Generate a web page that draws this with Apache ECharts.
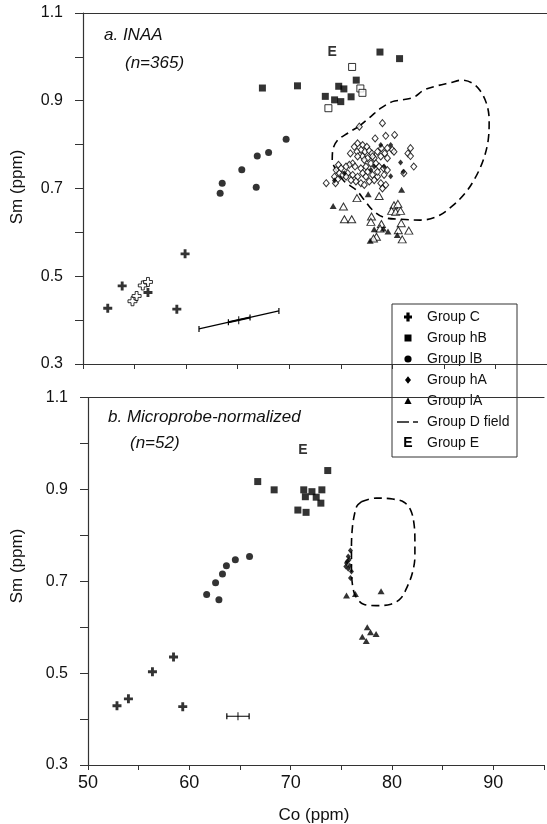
<!DOCTYPE html>
<html><head><meta charset="utf-8">
<script src="https://cdn.jsdelivr.net/npm/echarts@6/dist/echarts.min.js"></script>
<style>html,body{margin:0;padding:0;background:#fff}#c{width:547px;height:824px}</style>
</head><body><div id="c"></div>
<script>
// ---------- data ----------
const xTicks = [50, 60, 70, 80, 90];
const yTicks = [0.3, 0.5, 0.7, 0.9, 1.1];
const legendLabels = ['Group C', 'Group hB', 'Group lB', 'Group hA', 'Group lA', 'Group D field', 'Group E'];

// panel a (INAA)
const topC = [[52.4,0.427],[53.8,0.478],[56.3,0.463],[59.1,0.425],[59.9,0.551]];
const topCOpen = [[54.8,0.443],[55.2,0.455],[55.8,0.479],[56.3,0.487]];
const topHB = [[67.4,0.929],[70.8,0.934],[73.5,0.910],[74.4,0.902],[74.8,0.933],[75.0,0.898],[75.3,0.927],[76.0,0.909],[76.5,0.947],[78.8,1.011],[80.7,0.996]];
const topHBOpen = [[73.8,0.883],[76.1,0.977],[76.9,0.928],[77.1,0.918]];
const topLB = [[63.3,0.689],[63.5,0.712],[65.4,0.743],[66.8,0.703],[66.9,0.774],[68.0,0.782],[69.7,0.812]];
const topHAOpen = [[76.80,0.841],[79.04,0.849],[78.33,0.814],[79.36,0.820],[80.22,0.822],[76.63,0.803],[77.12,0.799],[77.53,0.795],[76.97,0.788],[76.57,0.784],[75.93,0.780],[77.34,0.784],[77.76,0.786],[78.01,0.780],[78.56,0.784],[78.94,0.792],[79.26,0.780],[79.52,0.769],[78.88,0.773],[78.24,0.769],[77.60,0.769],[77.12,0.773],[76.63,0.773],[76.15,0.757],[75.83,0.754],[76.38,0.750],[76.95,0.746],[77.44,0.750],[77.92,0.757],[78.40,0.757],[78.72,0.750],[79.15,0.746],[79.52,0.742],[80.00,0.788],[81.76,0.792],[81.51,0.780],[81.76,0.774],[82.08,0.750],[81.12,0.735],[74.78,0.754],[74.55,0.742],[74.87,0.735],[74.39,0.727],[74.71,0.721],[75.19,0.731],[75.67,0.735],[76.15,0.731],[76.63,0.727],[77.12,0.735],[77.60,0.738],[78.08,0.731],[78.56,0.727],[78.88,0.712],[79.36,0.708],[79.04,0.700],[76.95,0.712],[77.28,0.708],[76.47,0.716],[75.99,0.719],[73.59,0.712],[74.49,0.712],[75.51,0.727],[78.24,0.719],[78.56,0.738],[77.44,0.727],[77.76,0.716],[80.16,0.784],[79.52,0.792],[76.31,0.795],[79.20,0.731],[77.28,0.765],[78.08,0.773],[75.51,0.750],[75.03,0.746]];
const topHA = [[78.88,0.799],[79.84,0.799],[80.80,0.759],[81.06,0.738],[79.84,0.728],[77.92,0.742],[75.35,0.735],[74.39,0.718],[78.24,0.750],[79.20,0.750]];
const topLAOpen = [[75.26,0.659],[75.35,0.630],[76.06,0.630],[76.57,0.678],[78.72,0.683],[80.16,0.662],[80.54,0.665],[79.93,0.649],[80.32,0.647],[80.80,0.649],[77.98,0.636],[77.92,0.624],[78.94,0.619],[80.86,0.621],[80.58,0.605],[81.60,0.604],[80.96,0.584],[78.46,0.590],[78.17,0.586],[78.81,0.609]];
const topLA = [[77.66,0.687],[80.90,0.697],[74.26,0.660],[78.24,0.607],[79.13,0.609],[79.58,0.602],[77.85,0.581],[80.48,0.594]];
const topDField = [[76.80,0.842],[75.67,0.826],[74.65,0.809],[74.23,0.788],[74.17,0.765],[74.55,0.742],[75.35,0.716],[76.47,0.697],[77.28,0.674],[78.08,0.651],[79.20,0.634],[80.80,0.630],[82.72,0.628],[84.33,0.636],[85.77,0.659],[87.05,0.689],[88.01,0.723],[88.82,0.765],[89.30,0.811],[89.39,0.856],[89.13,0.894],[88.49,0.924],[87.69,0.941],[86.73,0.947],[85.61,0.941],[84.33,0.934],[83.05,0.924],[82.09,0.908],[80.96,0.902],[80.00,0.898],[78.88,0.883],[77.91,0.864],[76.80,0.842]];
const topE = [[74.17,1.010]];
const topErrLine = [[61.25,0.380],[69.0,0.421]];
const topErrInner = [[64.1,0.395],[66.2,0.406]];
const topErrCenter = [[65.1,0.400]];

// panel b (microprobe-normalized)
const botC = [[52.86,0.429],[53.99,0.444],[56.36,0.503],[58.44,0.535],[59.35,0.427]];
const botHB = [[66.75,0.917],[68.37,0.899],[73.66,0.941],[71.29,0.899],[71.45,0.884],[72.10,0.895],[72.52,0.883],[73.08,0.899],[72.98,0.870],[70.71,0.855],[71.52,0.850]];
const botLB = [[61.71,0.671],[62.59,0.697],[63.27,0.716],[63.66,0.734],[64.54,0.747],[65.94,0.754],[62.92,0.660]];
const botHA = [[75.90,0.767],[75.68,0.754],[75.77,0.747],[75.51,0.740],[75.44,0.732],[75.83,0.734],[76.00,0.721],[75.68,0.727],[75.90,0.707],[75.58,0.743]];
const botLA = [[75.51,0.669],[76.39,0.672],[78.92,0.678],[77.56,0.600],[77.88,0.589],[78.43,0.585],[77.07,0.579],[77.46,0.570]];
const botDField = [[76.97,0.873],[78.43,0.881],[80.06,0.879],[81.19,0.872],[81.84,0.855],[82.16,0.827],[82.26,0.790],[82.26,0.754],[82.01,0.718],[81.52,0.689],[80.87,0.663],[79.89,0.650],[78.43,0.647],[77.20,0.650],[76.42,0.667],[76.10,0.692],[76.00,0.732],[76.00,0.776],[76.10,0.819],[76.32,0.848],[76.55,0.864],[76.97,0.873]];
const botE = [[71.2,0.986]];
const botErrLine = [[63.7,0.406],[65.9,0.406]];
const botErrCenter = [[64.8,0.406]];

// ---------- styling ----------
const FONT = '"Liberation Sans", Arial, Helvetica, sans-serif';
const INK = '#111';
const AX = '#333';
const PLUS = 'path://M3.4,0H6.6V3.4H10V6.6H6.6V10H3.4V6.6H0V3.4H3.4Z';

const chart = echarts.init(document.getElementById('c'), null, {renderer: 'canvas'});

function yAxisDef(gi) {
  return {
    type: 'value', gridIndex: gi, min: 0.3, max: 1.1, interval: 0.1,
    axisLine: {show: true, lineStyle: {color: AX, width: 1.2}},
    axisTick: {show: true, length: 8, lineStyle: {color: AX, width: 1}},
    splitLine: {show: false},
    axisLabel: {
      margin: 20, color: INK, fontFamily: FONT, fontSize: 16,
      formatter: v => {
        const k = Math.round(v * 10);
        const hit = yTicks.some(t => Math.round(t * 10) === k);
        return hit ? (k / 10).toFixed(1) : '';
      }
    }
  };
}
function xAxisDef(gi, showLabels) {
  return {
    type: 'value', gridIndex: gi, min: 50, max: 95, interval: 5,
    axisLine: {show: true, onZero: false, lineStyle: {color: AX, width: 1.2}},
    axisTick: {show: true, length: 5, lineStyle: {color: AX, width: 1}},
    splitLine: {show: false},
    axisLabel: {
      show: showLabels, margin: 9, color: INK, fontFamily: FONT, fontSize: 18,
      formatter: v => xTicks.indexOf(Math.round(v)) >= 0 ? String(Math.round(v)) : ''
    }
  };
}
function topBorder(gi) {
  return {
    type: 'value', gridIndex: gi, min: 50, max: 95, position: 'top',
    axisLine: {show: true, onZero: false, lineStyle: {color: AX, width: 1.2}},
    axisTick: {show: false}, axisLabel: {show: false}, splitLine: {show: false}
  };
}

function sc(name, data, xi, yi, symbol, size, filled, extra) {
  return Object.assign({
    name, type: 'scatter', xAxisIndex: xi, yAxisIndex: yi, data,
    symbol, symbolSize: size,
    itemStyle: filled ? {color: '#000'} : {color: '#fff', borderColor: '#000', borderWidth: 1},
    emphasis: {disabled: true}, z: 3
  }, extra || {});
}
function field(name, data, xi, yi) {
  return {
    name, type: 'line', xAxisIndex: xi, yAxisIndex: yi, data, smooth: 0.35,
    symbol: 'none', lineStyle: {color: '#000', width: 1.6, type: [8, 5]}, z: 2
  };
}
function eLabel(name, data, xi, yi) {
  return {
    name, type: 'scatter', xAxisIndex: xi, yAxisIndex: yi, data,
    symbol: 'circle', symbolSize: 1, itemStyle: {color: 'rgba(0,0,0,0)'},
    label: {show: true, position: 'inside', formatter: 'E', color: '#000', fontFamily: FONT, fontWeight: 'bold', fontSize: 14},
    z: 4
  };
}
function errLine(name, data, xi, yi, width, caps) {
  return {
    name, type: 'line', xAxisIndex: xi, yAxisIndex: yi, data,
    symbol: caps ? 'rect' : 'none', symbolSize: [1.2, 6], showSymbol: !!caps,
    itemStyle: {color: '#000'},
    lineStyle: {color: '#000', width}, z: 3
  };
}

// ---------- legend (graphic) ----------
const LX = 392, LY = 304, LW = 125, LH = 153;
const legendEls = [
  {type: 'rect', shape: {x: 378, y: 298, width: 155, height: 165}, style: {fill: '#fff'}},
  {type: 'rect', shape: {x: LX, y: LY, width: LW, height: LH}, style: {fill: '#fff', stroke: AX, lineWidth: 1}}
];
legendLabels.forEach((lab, i) => {
  const cy = 317 + i * 21, cx = 408;
  let icon;
  if (i === 0) icon = {type: 'polygon', shape: {points: [[cx-1.6,cy-4.5],[cx+1.6,cy-4.5],[cx+1.6,cy-1.6],[cx+4,cy-1.6],[cx+4,cy+1.6],[cx+1.6,cy+1.6],[cx+1.6,cy+4.5],[cx-1.6,cy+4.5],[cx-1.6,cy+1.6],[cx-4,cy+1.6],[cx-4,cy-1.6],[cx-1.6,cy-1.6]]}, style: {fill: '#000'}};
  else if (i === 1) icon = {type: 'rect', shape: {x: cx-3.5, y: cy-3.5, width: 7, height: 7}, style: {fill: '#000'}};
  else if (i === 2) icon = {type: 'circle', shape: {cx, cy, r: 3.6}, style: {fill: '#000'}};
  else if (i === 3) icon = {type: 'polygon', shape: {points: [[cx,cy-3.8],[cx+3,cy],[cx,cy+3.8],[cx-3,cy]]}, style: {fill: '#000'}};
  else if (i === 4) icon = {type: 'polygon', shape: {points: [[cx,cy-3.8],[cx+3.6,cy+3],[cx-3.6,cy+3]]}, style: {fill: '#000'}};
  else if (i === 5) icon = {type: 'group', children: [
      {type: 'line', shape: {x1: 397, y1: cy, x2: 409, y2: cy}, style: {stroke: '#000', lineWidth: 1.4}},
      {type: 'line', shape: {x1: 413, y1: cy, x2: 418, y2: cy}, style: {stroke: '#000', lineWidth: 1.4}}]};
  else icon = {type: 'text', x: cx, y: cy, style: {text: 'E', font: 'bold 14px ' + FONT, fill: '#000', align: 'center', verticalAlign: 'middle'}};
  legendEls.push(icon);
  legendEls.push({type: 'text', x: 427, y: cy, style: {text: lab, font: '14px ' + FONT, fill: INK, verticalAlign: 'middle'}});
});

const option = {
  animation: false,
  backgroundColor: '#fff',
  grid: [
    {left: 83, top: 13, width: 468, height: 351},
    {left: 88, top: 397.5, width: 462, height: 367.5}
  ],
  xAxis: [xAxisDef(0, false), topBorder(0), xAxisDef(1, true), topBorder(1)],
  yAxis: [yAxisDef(0), yAxisDef(1)],
  series: [
    field('Group D field', topDField, 0, 0),
    sc('Group C (open)', topCOpen, 0, 0, PLUS, 9, false),
    sc('Group C', topC, 0, 0, PLUS, 9, true),
    sc('Group hB (open)', topHBOpen, 0, 0, 'rect', 7, false),
    sc('Group hB', topHB, 0, 0, 'rect', 7, true),
    sc('Group lB', topLB, 0, 0, 'circle', 7, true),
    sc('Group hA (open)', topHAOpen, 0, 0, 'diamond', [6, 7], false),
    sc('Group hA', topHA, 0, 0, 'diamond', [5, 6], true),
    sc('Group lA (open)', topLAOpen, 0, 0, 'triangle', [8, 7], false),
    sc('Group lA', topLA, 0, 0, 'triangle', [7, 6], true),
    eLabel('Group E', topE, 0, 0),
    errLine('err a', topErrLine, 0, 0, 1.1, true),
    errLine('err a inner', topErrInner, 0, 0, 2, true),
    sc('err a c', topErrCenter, 0, 0, 'rect', [1.2, 8], true),

    field('Group D field b', botDField, 2, 1),
    sc('Group C b', botC, 2, 1, PLUS, 9, true),
    sc('Group hB b', botHB, 2, 1, 'rect', 7, true),
    sc('Group lB b', botLB, 2, 1, 'circle', 7, true),
    sc('Group hA b', botHA, 2, 1, 'diamond', [5, 6], true),
    sc('Group lA b', botLA, 2, 1, 'triangle', [7, 6], true),
    eLabel('Group E b', botE, 2, 1),
    errLine('err b', botErrLine, 2, 1, 1.1, true),
    sc('err b c', botErrCenter, 2, 1, 'rect', [1.2, 8], true)
  ],
  graphic: [
    {type: 'text', x: 104, y: 35, style: {text: 'a. INAA', font: 'italic 17px ' + FONT, fill: INK, verticalAlign: 'middle'}},
    {type: 'text', x: 125, y: 63, style: {text: '(n=365)', font: 'italic 17px ' + FONT, fill: INK, verticalAlign: 'middle'}},
    {type: 'text', x: 108, y: 417, style: {text: 'b. Microprobe-normalized', font: 'italic 17px ' + FONT, fill: INK, verticalAlign: 'middle'}},
    {type: 'text', x: 130, y: 443, style: {text: '(n=52)', font: 'italic 17px ' + FONT, fill: INK, verticalAlign: 'middle'}},
    {type: 'text', x: 17, y: 187, rotation: Math.PI / 2, style: {text: 'Sm (ppm)', font: '17px ' + FONT, fill: INK, align: 'center', verticalAlign: 'middle'}},
    {type: 'text', x: 17, y: 566, rotation: Math.PI / 2, style: {text: 'Sm (ppm)', font: '17px ' + FONT, fill: INK, align: 'center', verticalAlign: 'middle'}},
    {type: 'text', x: 314, y: 815, style: {text: 'Co (ppm)', font: '17px ' + FONT, fill: INK, align: 'center', verticalAlign: 'middle'}},
    {type: 'group', z: 100, children: legendEls}
  ]
};
chart.setOption(option);
</script>
</body></html>
